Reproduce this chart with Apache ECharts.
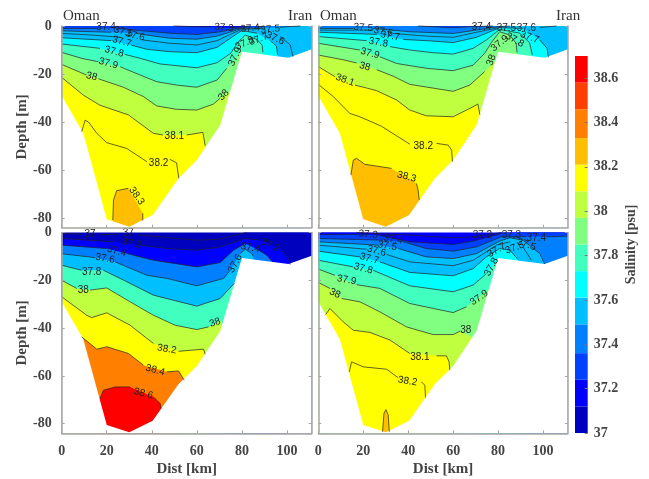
<!DOCTYPE html>
<html><head><meta charset="utf-8">
<style>html,body{margin:0;padding:0;background:#fff}#c{width:649px;height:479px}</style>
<script src="https://cdn.jsdelivr.net/npm/echarts@6/dist/echarts.min.js"></script>
</head><body><div id="c"></div>
<script>
// Colour bar
const barEdges=[37,37.12,37.24,37.36,37.49,37.61,37.73,37.85,37.97,38.09,38.21,38.33,38.46,38.58,38.7];
const barColors=['#0000bf','#0000ff','#0040ff','#0080ff','#00bfff','#00ffff','#40ffbf','#80ff80','#bfff40','#ffff00','#ffbf00','#ff8000','#ff4000','#ff0000'];
const barTicks=[37,37.2,37.4,37.6,37.8,38,38.2,38.4,38.6];
const distTicks=[0,20,40,60,80,100];
const depthTicks=[-80,-60,-40,-20,0];
// Sea floor [km, depth m]
const seaFloor=[[0,29],[9.6,44.7],[20,80.5],[30,83.6],[40.4,78.7],[51.8,63.5],[60,55.8],[70.4,41.2],[80,10.7],[100.7,13.2],[111,9.7]];

// Top left panel: null lifts the pen (gap in the drawn line)
const tlSurface=37.2;
const tlLevels=[37.3,37.4,37.5,37.6,37.7,37.8,37.9,38,38.1,38.2,38.3];
const tlLines=[
[[0,0],null,[49.6,0],[60,.3],[66,.4],null,[75,.7],[80,.4],[84,0],null,[111,0]],
[[0,1],[15.5,1],null,[24.4,1],[36,2],[48,3],[60,3.5],[69,2.6],[76,1.4],[80,.8],null,[87,.4],[90,0],null,[111,0]],
[[0,2],[14,2.4],[22,2.6],null,[33,3],[37.8,3.8],[48,5.1],[60,5.5],[69,4.2],[80,1],[88,.8],null,[97,.5],[106,0],null,[111,0]],
[[0,3.1],[14,3.8],[26,4.7],null,[36,5.8],[48,7.2],[60,7.9],[69,6.1],[76,3],[80,1.4],[89.6,1],null,[97,4.4],[101.5,7.9],[102.7,12.8]],
[[0,4.9],[22,6.1],null,[31,8],[37.8,9.7],[48,10.7],[60,11.1],[69,8.9],[75.5,4.7],[80,1.9],[86.7,3],null,[92.6,6.1],[95.3,8.3],[95.9,12]],
[[0,7.5],[17,9.3],null,[28,11.8],[35,13.5],[43.7,15.8],[60,17.4],[69,15.3],[75,11.4],[78.5,6.5],[81.5,3.8],[86.7,5.6],[89,8],[89.3,11]],
[[0,11],[9,13.5],[16.3,14.9],null,[26,17],[34.8,20.4],[42.2,23.2],[51,24.6],[60,25.5],[69,22.5],[73.3,17.6],null,[80,10]],
[[0,16],[11,20.4],null,[16.3,22],[27.4,25.5],[36.3,29.4],[42.2,33.3],[51,34.7],[60,35],[67.4,32.5],[70.4,30],null,[75,27]],
[[0,21.4],[9.6,28.8],[17,33],[29.6,37],[40.7,44.7],[45,45.4],null,[55.5,45.4],[62.7,44.3],[63.7,49.9]],
[[8.9,44],[10.4,39.2],[11.9,40],[15.6,44.7],[20,48.6],[28.9,51],[37.8,56.5],null,[48,55.5],[51,57],[52,63.5]],
[[22.7,80.8],[23,72.5],[24.4,68.6],[29.6,67.6],null,[36,78],[36,81]]
];
const tlLabels=[['37.4',19.7,.7,0],['37.5',27.4,2.4,-15],['37.6',32.6,4,-15],['37.7',26.7,6.5,-15],['37.8',23.3,10.7,-15],['37.9',20.7,15.6,-15],['38',13.3,21,-15],['38.1',50,46,0],['38.2',43,57,0],['38.3',33.3,70.8,-55],['37.3',72,.7,-5],['37.4',83.7,1,5],['37.5',92.6,1.4,5],['37.6',94.8,5.1,-25],['37.7',87.4,5.6,20],['37.8',81.2,7.2,25],['37.9',77,12.8,65],['38',71.9,28.8,45]];

// Top right panel
const trSurface=37.3;
const trLevels=[37.4,37.5,37.6,37.7,37.8,37.9,38,38.1,38.2,38.3];
const trLines=[
[[0,0],null,[44.4,0],[60,.7],[67.4,.3],[77.8,0],null,[111,0]],
[[0,1],[15.6,1],null,[24.4,1],[40.7,2.4],[60,3.1],[70.4,1.7],[80,.3],[85.2,0],null,[111,0]],
[[0,1.7],[24.4,1.7],null,[33.3,3.1],[48,4.2],[60,4.7],[70.4,2.6],[80.7,.6],null,[98.5,.6],[106,0],null,[111,0]],
[[0,2.6],[26,3.5],null,[37.8,5.6],[48,6.1],[60,6.9],[70.4,4.7],[80.7,.7],[91,1],null,[98.5,5.8],[101.8,9.3],[102.3,13]],
[[0,4.4],[21.5,6.1],null,[31.9,8.6],[40.7,10],[51,11.1],[60,11.7],[68.9,9.3],[74.8,5.8],[80.7,1.4],[89.6,3],[94,7],[95.2,12]],
[[0,7.2],[18.5,10],null,[27.4,12.8],[34.8,15.6],[48,17.6],[60,18.6],[68.9,16.3],[74,11.4],[77,6.9],[80.7,2.4],[85.2,3.8],[88,7.2],[88.4,11]],
[[0,12.1],[11.9,14.2],[17,15.4],null,[26,18.2],[33.3,20.9],[40.7,24.3],[60,27.2],[67.4,24.6],[74,19],null,[78.6,15]],
[[0,16.9],[7.4,21.1],null,[16.3,24.6],[25.9,26.9],[34.8,30.8],[40.7,35],[48,37.4],[60,37.8],[68.9,33.6],[71,32.5],[71.9,37]],
[[0,24.3],[6.7,29.4],[14,36.4],[18.5,37.8],[28,41.7],[40.7,49.2],null,[52.6,48.9],[57.8,49.6],[59.3,51.7],[59.7,56.5]],
[[14.5,62],[15.6,55.8],[17,55.1],[20.7,57.6],[32.6,59.3],null,[43.7,65.6],[44.4,68.3],[44.9,72.5]]
];
const trLabels=[['37.4',72.6,.7,0],['37.5',20,.7,-5],['37.6',28.9,2.4,-10],['37.7',31.9,4.2,-10],['37.8',26.7,6.9,-10],['37.9',23,11.4,-15],['38',20.7,16.9,-15],['38.1',11.9,22.5,-20],['38.2',46.7,49.9,0],['38.3',39.3,62.8,-15],['37.5',83.7,1,0],['37.6',92.6,1,0],['37.7',94,4.7,-20],['37.8',87.4,5.8,-30],['37.9',80.7,7.2,40],['38',77,14.2,70]];

// Bottom left panel
const blSurface=37;
const blLevels=[37,37.2,37.4,37.6,37.8,38,38.2,38.4,38.6];
const blLines=[
[[0,.4],[9,.7],null,[17,.9],[25,.7],null,[34,1],[48,2.2],[60,3.2],[70,2.8],[80,.4],[82,0],null,[111,0]],
[[0,2.5],[23,3.9],null,[34.8,5.3],[46.7,6.7],[60,7.4],[70.4,6],[81.5,2.5],[88.1,3.2],null,[97,6.7],[100.7,10.9],[101.5,13.4]],
[[0,5.3],[20,6.7],null,[28.9,8.8],[40.7,11.6],[60,14.4],[70.4,12.6],[76.3,7.4],[81.5,4.6],null,[86.7,7],[91,9.5],[93.3,12]],
[[0,8.9],[14.8,10.5],null,[23.7,12.3],[37.8,17.9],[46.7,19.2],[60,22.3],[71.9,19.2],[74.8,15.8],null,[79.3,8.8],[81.5,7],[84.4,8.8],[85.2,10.2]],
[[0,13.7],[8.9,15.8],null,[18.5,15.8],[27.4,19.9],[40.7,26.2],[60,30.8],[70.4,27.6],[76.6,21.3]],
[[0,20],[6.7,23.4],null,[12.6,24.1],[20,23.2],[30.4,29],[40.7,34.6],[50.4,38.8],[60,40.6],[65.2,39.5],null,[71,36.7]],
[[0,26.9],[11.1,34.6],[13.3,35.6],[20,33.6],[30.4,38.8],[40.7,46.4],null,[51.9,49.7],[63,48.8],[63.7,51]],
[[8.9,43.7],[15.6,48.8],[20,47.8],[29.6,50.6],[36.3,55.5],null,[46.7,58.3],[51.9,57.9],[54.4,61.8]],
[[17,69.5],[18.5,66],[23.7,64.6],[30.4,64.6],null,[40.7,68.8],[43.7,71.5],[44.1,73.6]]
];
const blLabels=[['37',12.6,.8,0],['37',29.6,.4,0],['37.2',31,4.6,-10],['37.2',92.6,5.3,-25],['37.4',24.4,7.8,-15],['37.4',83.7,6.4,-10],['37.6',19.3,10.9,-10],['37.6',77,13,60],['37.8',13.3,16.5,0],['38',9.6,24.1,0],['38',68.1,37.7,20],['38.2',46.7,48.8,-10],['38.4',41.5,57.6,-15],['38.6',36.3,67.4,-15]];

// Bottom right panel
const brSurface=37.2;
const brLevels=[37.2,37.3,37.4,37.5,37.6,37.7,37.8,37.9,38,38.1,38.2,38.3];
const brLines=[
[[0,0],null,[17,0],[40.7,1.1],[60,2.2],[68.9,1.8],[81.5,0],null,[111,0]],
[[0,.8],[17.8,.8],null,[26.7,1.1],[40.7,3.9],[60,5],[68.9,3.6],[81.5,.4],null,[91,0],null,[111,0]],
[[0,2.5],[28.9,3.2],null,[37.8,3.9],[48,6.7],[60,7.8],[70.4,6],[81.5,1.8],[92.6,1.8],null,[101.5,1.8],[111,1.5]],
[[0,3.9],[26.7,5.3],null,[35.6,6.7],[48,10.2],[60,10.9],[70.4,8.8],[80.7,3.6],[85.2,2.2],[91,3.2],[98.5,8.8],[100.7,13.2]],
[[0,5.3],[21.5,7],null,[30.4,9.2],[40.7,12.3],[60,13.9],[68.9,11.6],[79.3,5.3],[85.2,3.9],null,[91,6],[94.8,11.6]],
[[0,7.8],[18.5,10.2],null,[27.4,12.3],[40.7,16.7],[60,18.1],[68.9,15.1],[74.8,10.2],[80.7,6.7],[85.2,7.4],[88.9,11.3]],
[[0,11.6],[15.6,14.4],null,[24.4,15.8],[40.7,22.3],[60,24.8],[68.9,22],[74.8,17.2],null,[80,10.9]],
[[0,15.3],[7.4,17.9],null,[17,21.8],[27.4,23.4],[40.7,29.7],[60,33.5],[65.9,31.1],null,[76.3,23.4]],
[[0,20.9],[5.2,23.4],null,[10.4,27.6],[18.5,29],[27.4,33.2],[39.3,39.5],[51.1,42.7],[60,42.7],[63,41.3],null,[68.4,43.7]],
[[3.3,34.3],[5.2,31.8],[11.1,37.4],[15.6,40.9],[23,41.8],[31.9,45],[40.7,50.6],null,[52.6,51.6],[57,51.6],[58.2,54.1],[58.5,57.6]],
[[13.8,58.3],[14.8,54.1],[20,56.2],[30.4,57.2],[35.6,60.8],null,[45.9,62.5],[47.4,63.9],[47.7,69]],
[[28.6,83.4],[29.2,75.7],[30.1,74.1],[31.1,76.4],[31.6,83.4]]
];
const brLabels=[['37.3',22.2,.8,-5],['37.4',33.3,2.9,-10],['37.5',30.7,5.6,-10],['37.6',25.9,7.7,-15],['37.7',22.7,10.9,-15],['37.8',20,15.1,-15],['37.9',12.6,19.9,-10],['38',7.4,25.5,-25],['38.1',45.2,52.3,0],['38.2',39.7,62.2,-10],['37.2',73,1.1,0],['37.3',85.9,1.1,0],['37.4',97,2.5,0],['37.5',92.6,5,-20],['37.6',87.4,6.4,20],['37.7',79.3,7.4,30],['37.8',77,14.4,60],['37.9',71.6,27.3,35],['38',65.6,40.9,0]];

const serif='"Liberation Serif","Times New Roman",serif';
const inkAxis='#a6a6a6', inkText='#444';
const MAXD=84, MAXX=111;
function colorOf(v){for(let i=0;i<barColors.length;i++){if(v<barEdges[i+1])return barColors[i];}return barColors[barColors.length-1];}

const panels=[
 {surface:tlSurface,levels:tlLevels,lines:tlLines,labels:tlLabels,box:{left:61.7,top:26,width:250,height:201.7},xLab:false,yLab:true},
 {surface:trSurface,levels:trLevels,lines:trLines,labels:trLabels,box:{left:318.3,top:26,width:249.5,height:201.7},xLab:false,yLab:false},
 {surface:blSurface,levels:blLevels,lines:blLines,labels:blLabels,box:{left:61.7,top:232.5,width:250,height:200.8},xLab:true,yLab:true},
 {surface:brSurface,levels:brLevels,lines:brLines,labels:brLabels,box:{left:318.3,top:232.5,width:249.5,height:200.8},xLab:true,yLab:false}
];
const grid=[],xAxis=[],yAxis=[],series=[];
const line={lineStyle:{color:inkAxis,width:1.5}};
panels.forEach((p,n)=>{
 grid.push(p.box);
 const xi=xAxis.length, yi=yAxis.length;
 xAxis.push({gridIndex:n,type:'value',min:0,max:MAXX,z:10,
  axisLine:{show:true,onZero:false,...line},
  axisTick:{show:true,inside:true,length:3,customValues:distTicks,lineStyle:{color:inkAxis}},
  axisLabel:{show:p.xLab,customValues:distTicks,margin:11,color:inkText,fontFamily:serif,fontWeight:'bold',fontSize:14},
  splitLine:{show:false},
  name:p.xLab?'Dist [km]':'',nameLocation:'middle',nameGap:28,nameTextStyle:{color:inkText,fontFamily:serif,fontWeight:'bold',fontSize:15}});
 yAxis.push({gridIndex:n,type:'value',min:-MAXD,max:0,z:10,
  axisLine:{show:true,onZero:false,...line},
  axisTick:{show:true,inside:true,length:3,customValues:depthTicks,lineStyle:{color:inkAxis}},
  axisLabel:{show:p.yLab,customValues:depthTicks,margin:10,color:inkText,fontFamily:serif,fontWeight:'bold',fontSize:14},
  splitLine:{show:false},
  name:p.yLab?'Depth [m]':'',nameLocation:'middle',nameGap:29,nameTextStyle:{color:inkText,fontFamily:serif,fontWeight:'bold',fontSize:15}});
 yAxis.push({gridIndex:n,type:'value',position:'right',min:-MAXD,max:0,z:10,
  axisLine:{show:true,onZero:false,...line},
  axisTick:{show:true,inside:true,length:3,customValues:depthTicks,lineStyle:{color:inkAxis}},
  axisLabel:{show:false},splitLine:{show:false}});
 const common={type:'custom',coordinateSystem:'cartesian2d',xAxisIndex:xi,yAxisIndex:yi,silent:true,clip:false,animation:false};
 const pt=(api,q)=>api.coord([q[0],-q[1]]);
 const closed=(api,pts,c)=>({type:'polygon',shape:{points:pts},style:{fill:c}});
 // background of the water column
 series.push({...common,z:2,data:[[0]],renderItem:(ps,api)=>closed(api,[[0,0],[MAXX,0],[MAXX,MAXD],[0,MAXD]].map(q=>pt(api,q)),colorOf(p.surface))});
 // band below each contour
 series.push({...common,z:3,data:p.levels.map((l,i)=>[i]),renderItem:(ps,api)=>{
   const c=p.lines[ps.dataIndex].filter(Boolean);
   const poly=c.concat([[c[c.length-1][0],MAXD],[c[0][0],MAXD]]).map(q=>pt(api,q));
   return closed(api,poly,colorOf(p.levels[ps.dataIndex]));
 }});
 // sea floor mask
 series.push({...common,z:4,data:[[0]],renderItem:(ps,api)=>closed(api,seaFloor.concat([[MAXX,MAXD],[0,MAXD]]).map(q=>pt(api,q)),'#fff')});
 // contour lines
 series.push({...common,z:5,data:p.levels.map((l,i)=>[i]),renderItem:(ps,api)=>{
   const parts=[];let cur=[];
   p.lines[ps.dataIndex].forEach(q=>{if(q){cur.push(pt(api,q));}else{if(cur.length>1)parts.push(cur);cur=[];}});
   if(cur.length>1)parts.push(cur);
   return {type:'group',children:parts.map(s=>({type:'polyline',shape:{points:s},style:{fill:null,stroke:'#222',lineWidth:.7}}))};
 }});
 // contour labels
 series.push({...common,z:6,data:p.labels.map((l,i)=>[i]),renderItem:(ps,api)=>{
   const l=p.labels[ps.dataIndex],c=pt(api,[l[1],l[2]]);
   return {type:'text',x:c[0],y:c[1],rotation:l[3]*Math.PI/180,style:{text:l[0],align:'center',verticalAlign:'middle',fill:'#222',fontSize:10,fontFamily:'"Liberation Sans",Arial,sans-serif'}};
 }});
});
// colour bar
grid.push({left:575,top:56,width:12.7,height:377});
const bg=grid.length-1;
xAxis.push({gridIndex:bg,type:'value',min:0,max:1,show:false});
yAxis.push({gridIndex:bg,type:'value',position:'right',min:37,max:38.7,z:10,
 axisLine:{show:false,onZero:false},
 axisTick:{show:true,inside:true,length:3,customValues:barTicks,lineStyle:{color:'#777'}},
 axisLabel:{customValues:barTicks,margin:6,color:inkText,fontFamily:serif,fontWeight:'bold',fontSize:14,formatter:v=>String(+(+v).toFixed(1))},
 splitLine:{show:false},
 name:'Salinity [psu]',nameLocation:'middle',nameRotate:90,nameGap:37,nameTextStyle:{color:inkText,fontFamily:serif,fontWeight:'bold',fontSize:14}});
series.push({type:'custom',coordinateSystem:'cartesian2d',xAxisIndex:xAxis.length-1,yAxisIndex:yAxis.length-1,silent:true,animation:false,
 data:barColors.map((c,i)=>[i]),renderItem:(ps,api)=>{
  const i=ps.dataIndex,a=api.coord([0,barEdges[i]]),b=api.coord([1,barEdges[i+1]]);
  return {type:'rect',shape:{x:a[0],y:b[1],width:b[0]-a[0],height:a[1]-b[1]},style:{fill:barColors[i]}};
 }});
const place=(t,x)=>({type:'text',left:x,top:9,style:{text:t,fontFamily:serif,fontSize:15,fill:'#333'}});
const chart=echarts.init(document.getElementById('c'),null,{renderer:'canvas'});
chart.setOption({animation:false,backgroundColor:'#fff',grid,xAxis,yAxis,series,
 graphic:[place('Oman',63),place('Iran',288),place('Oman',320),place('Iran',556)]});
</script></body></html>
